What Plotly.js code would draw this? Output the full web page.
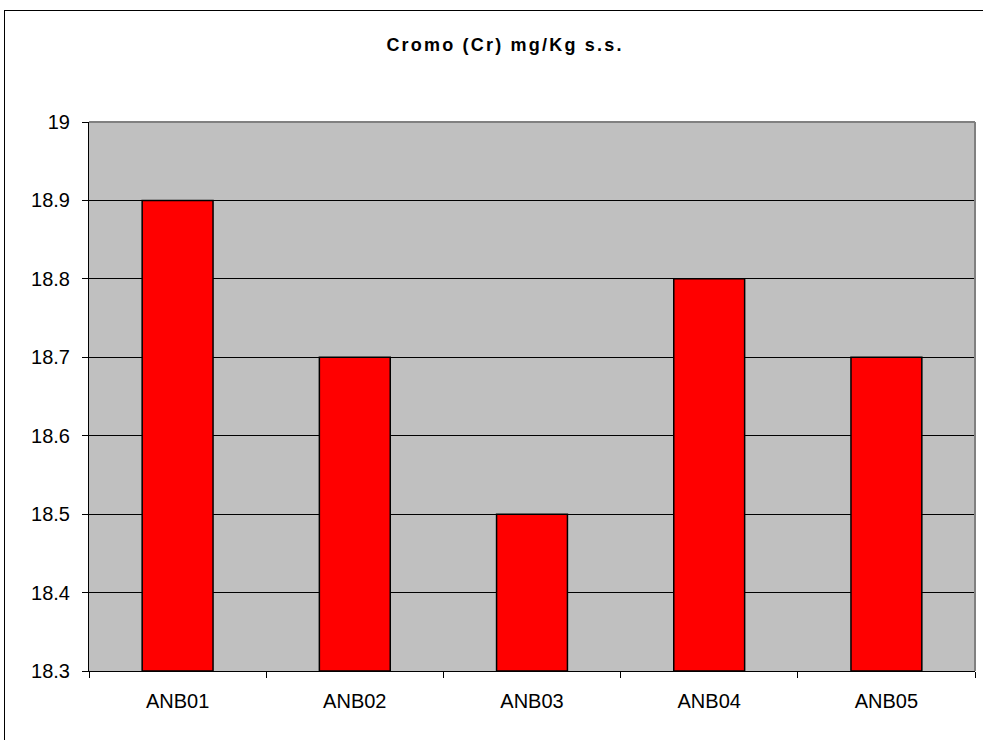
<!DOCTYPE html>
<html>
<head>
<meta charset="utf-8">
<script src="https://cdn.plot.ly/plotly-3.0.1.min.js"></script>
<style>
  html, body { margin: 0; padding: 0; background: #fff; overflow: hidden; }
  #frame { position: absolute; left: 4px; top: 10px; width: 1200px; height: 1000px; border: 1px solid #000; box-sizing: border-box; }
  #chart { position: absolute; left: 0; top: 0; width: 983px; height: 740px; }
  #chart .gtitle { letter-spacing: 2.2px; }
</style>
</head>
<body>
<div id="frame"></div>
<div id="chart"></div>
<script>
const categories = ["ANB01", "ANB02", "ANB03", "ANB04", "ANB05"];
const values = [18.9, 18.7, 18.5, 18.8, 18.7];
const yTicks = [18.3, 18.4, 18.5, 18.6, 18.7, 18.8, 18.9, 19];
const yTickLabels = ["18.3", "18.4", "18.5", "18.6", "18.7", "18.8", "18.9", "19"];
const chartTitle = "Cromo (Cr) mg/Kg s.s.";
const axisFloor = 18.3;

const trace = {
  type: "bar",
  x: categories,
  y: values.map(v => v - axisFloor),
  base: axisFloor,
  marker: { color: "#FF0000", line: { color: "#000000", width: 1.5 } },
  hoverinfo: "x+y"
};

const font = "Liberation Sans, Arial, sans-serif";

const layout = {
  width: 983,
  height: 740,
  paper_bgcolor: "rgba(0,0,0,0)",
  plot_bgcolor: "#C0C0C0",
  margin: { l: 89, r: 8, t: 122, b: 69, pad: 0 },
  showlegend: false,
  bargap: 0.6,
  title: {
    text: "<b>" + chartTitle + "</b>",
    font: { family: font, size: 18, color: "#000" },
    x: 505 / 983, xanchor: "center",
    y: 1 - 45 / 740, yanchor: "middle"
  },
  xaxis: {
    type: "category",
    showgrid: false,
    showline: true,
    linecolor: "#000",
    linewidth: 1,
    ticks: "outside",
    tickson: "boundaries",
    ticklen: 6,
    tickcolor: "#000",
    ticklabelstandoff: 12,
    tickfont: { family: font, size: 20, color: "#000" },
    fixedrange: true
  },
  yaxis: {
    range: [18.3, 19],
    tickvals: yTicks,
    ticktext: yTickLabels,
    showgrid: true,
    gridcolor: "#000",
    gridwidth: 1,
    zeroline: false,
    showline: true,
    linecolor: "#000",
    linewidth: 1,
    ticks: "outside",
    ticklen: 6,
    tickcolor: "#000",
    ticklabelstandoff: 8,
    tickfont: { family: font, size: 20, color: "#000" },
    fixedrange: true
  },
  shapes: [
    { type: "line", xref: "paper", yref: "paper", x0: 0, x1: 1, y0: 1, y1: 1, line: { color: "#808080", width: 2 } },
    { type: "line", xref: "paper", yref: "paper", x0: 1, x1: 1, y0: 0, y1: 1, line: { color: "#808080", width: 2 } }
  ]
};

Plotly.newPlot("chart", [trace], layout, { displayModeBar: false, staticPlot: true });
</script>
</body>
</html>
